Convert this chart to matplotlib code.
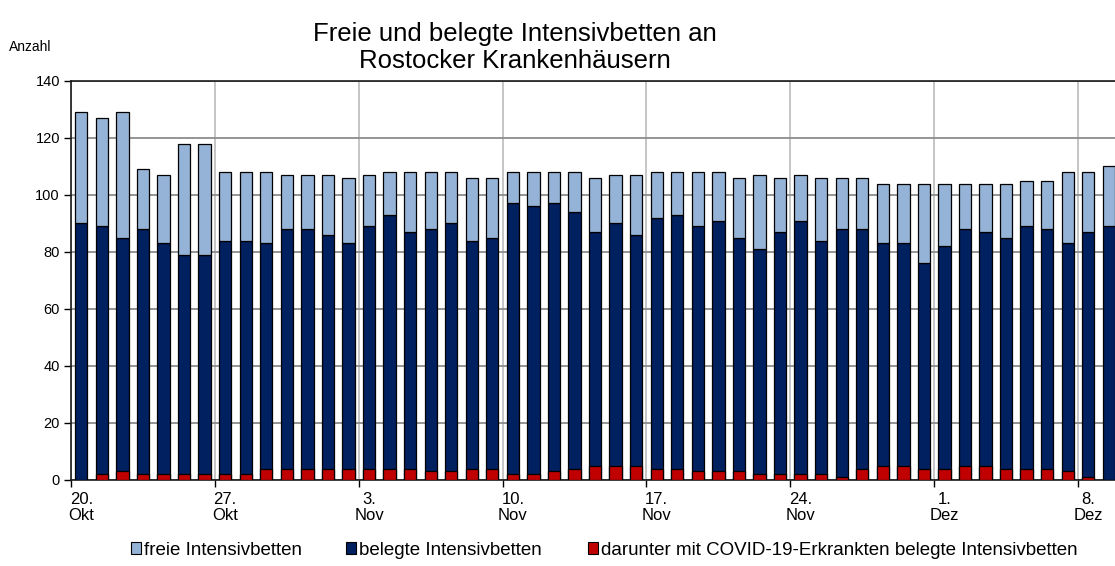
import matplotlib
matplotlib.use("Agg")
import matplotlib.pyplot as plt
import matplotlib.patches as mpatches
import numpy as np

plt.rcParams['font.family'] = ['Liberation Sans', 'DejaVu Sans']

# daily values, 20. Okt .. 9. Dez
belegt = [90, 89, 85, 88, 83, 79, 79, 84, 84, 83, 88, 88, 86, 83, 89, 93, 87,
          88, 90, 84, 85, 97, 96, 97, 94, 87, 90, 86, 92, 93, 89, 91, 85, 81,
          87, 91, 84, 88, 88, 83, 83, 76, 82, 88, 87, 85, 89, 88, 83, 87, 89]
freie = [39, 38, 44, 21, 24, 39, 39, 24, 24, 25, 19, 19, 21, 23, 18, 15, 21,
         20, 18, 22, 21, 11, 12, 11, 14, 19, 17, 21, 16, 15, 19, 17, 21, 26,
         19, 16, 22, 18, 18, 21, 21, 28, 22, 16, 17, 19, 16, 17, 25, 21, 21]
covid = [0, 2, 3, 2, 2, 2, 2, 2, 2, 4, 4, 4, 4, 4, 4, 4, 4,
         3, 3, 4, 4, 2, 2, 3, 4, 5, 5, 5, 4, 4, 3, 3, 3, 2,
         2, 2, 2, 1, 4, 5, 5, 4, 4, 5, 5, 4, 4, 4, 3, 1, 0]
week_labels = ["20.\nOkt", "27.\nOkt", "3.\nNov", "10.\nNov",
               "17.\nNov", "24.\nNov", "1.\nDez", "8.\nDez"]
legend_labels = ["freie Intensivbetten", "belegte Intensivbetten",
                 "darunter mit COVID-19-Erkrankten belegte Intensivbetten"]

c_frei = "#95B3D7"
c_bel = "#002060"
c_cov = "#C00000"

fig = plt.figure(figsize=(11.15, 5.66), dpi=100)
ax = fig.add_axes([0.0637, 0.152, 0.94, 0.705])

x = np.arange(len(belegt))
w = 0.6
ax.bar(x, belegt, w, color=c_bel, edgecolor="black", linewidth=0.9, zorder=3)
ax.bar(x, freie, w, bottom=belegt, color=c_frei, edgecolor="black", linewidth=0.9, zorder=3)
ax.bar(x, covid, w, color=c_cov, edgecolor="black", linewidth=0.9, zorder=4)

ax.set_xlim(-0.5, len(belegt) - 0.5)
ax.set_ylim(0, 140)
ax.set_yticks(np.arange(0, 141, 20))
ax.yaxis.grid(True, color="#8C8C8C", linewidth=1.3, zorder=0)

# ticks sit between days, labels under the day itself
major = np.arange(0, len(belegt), 7) - 0.5
ax.set_xticks(major)
ax.set_xticklabels([])
ax.set_xticks(np.arange(0, len(belegt), 7), minor=True)
ax.set_xticklabels(week_labels, minor=True, fontsize=12, linespacing=1.05)
ax.tick_params(axis="x", which="minor", length=0, pad=9)
ax.tick_params(axis="x", which="major", length=5, width=1, direction="out")
ax.tick_params(axis="y", length=5, width=1, labelsize=10.5, pad=3)
ax.xaxis.grid(True, which="major", color="#C0C0C0", linewidth=1.3, zorder=0)
ax.set_axisbelow(True)

for s in ["left", "bottom", "top"]:
    ax.spines[s].set_color("#1a1a1a")
    ax.spines[s].set_linewidth(1.2)
ax.spines["right"].set_visible(False)

fig.text(0.462, 0.962, "Freie und belegte Intensivbetten an\nRostocker Krankenhäusern",
         ha="center", va="top", fontsize=18.5, linespacing=1.2)
fig.text(0.008, 0.9104, "Anzahl", ha="left", va="baseline", fontsize=10)

colors = [c_frei, c_bel, c_cov]
legend_x = [131, 346, 588]
for lab, col, lx in zip(legend_labels, colors, legend_x):
    h = mpatches.Patch(facecolor=col, edgecolor="black", linewidth=0.8, label=lab)
    fig.legend(handles=[h], loc="center left", bbox_to_anchor=(lx / 1115, 0.028),
               frameon=False, fontsize=13.5, handlelength=0.55, handleheight=0.55,
               handletextpad=0.15, borderpad=0, borderaxespad=0)

fig.savefig("out.png", dpi=100)
